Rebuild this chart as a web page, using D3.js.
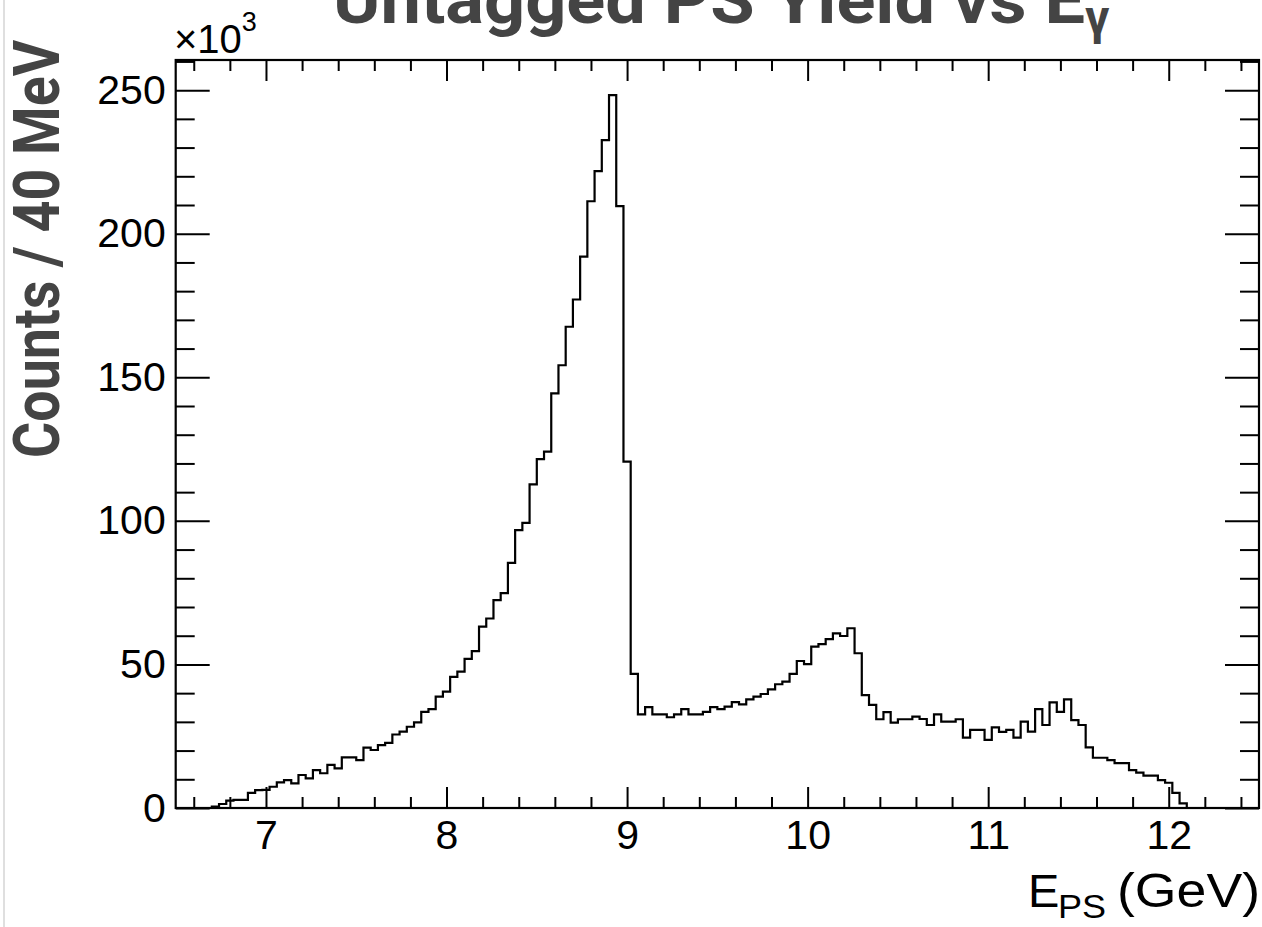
<!DOCTYPE html>
<html><head><meta charset="utf-8">
<script src="https://cdn.jsdelivr.net/npm/d3@7"></script>
<style>body{margin:0;background:#fff} svg{display:block}</style>
</head><body><svg id="c" width="1262" height="927"></svg>
<script>
// ---- data (counts per 40 MeV bin, in units of 10^3) ----
const binStart = 6.70;   // GeV, lower edge of first filled bin
const binWidth = 0.04;   // GeV
const countsK = [
  0.5, 1.4, 2.6, 2.8, 2.8, 5.3, 6.2, 6.3, 7.4, 8.9,
  9.7, 8.6, 11.5, 10.3, 13.2, 12.1, 15.0, 13.8, 17.6, 17.6,
  16.7, 21.0, 20.2, 21.9, 22.7, 25.6, 26.6, 28.3, 29.8, 33.5,
  34.4, 38.8, 40.5, 45.7, 47.5, 51.9, 54.6, 63.2, 66.0, 72.4,
  74.8, 85.4, 96.8, 99.3, 112.7, 121.5, 124.1, 144.4, 154.2, 167.6,
  177.1, 192.0, 211.3, 221.8, 232.6, 248.3, 209.6, 120.6, 46.7, 32.6,
  35.1, 32.6, 32.6, 31.6, 32.6, 34.4, 32.6, 32.6, 33.5, 35.1,
  34.4, 35.3, 36.9, 36.1, 37.8, 38.8, 39.7, 41.3, 43.1, 44.0,
  46.7, 51.2, 50.1, 56.2, 57.1, 58.8, 60.8, 59.9, 62.6, 53.9,
  39.3, 35.9, 30.9, 33.4, 29.7, 30.9, 30.9, 31.8, 31.0, 28.9,
  32.6, 30.1, 30.1, 30.9, 24.5, 27.2, 27.2, 23.7, 28.1, 26.5,
  27.2, 24.5, 30.1, 26.6, 34.4, 28.9, 36.8, 33.5, 37.8, 30.6,
  28.9, 21.1, 17.5, 17.5, 16.7, 15.6, 15.6, 13.2, 12.3, 11.3,
  11.3, 9.7, 8.8, 5.3, 1.6
];
const xDomain = [6.5, 12.5];
const yDomain = [0, 260.5];
const xMajorTicks = [7, 8, 9, 10, 11, 12];
const xTickLabels = ["7", "8", "9", "10", "11", "12"];
const yMajorTicks = [0, 50, 100, 150, 200, 250];
const yTickLabels = ["0", "50", "100", "150", "200", "250"];
const titleText = "Untagged PS Yield vs E";
const titleSub = "\u03B3";
const yTitle = "Counts / 40 MeV";

// ---- layout ----
const L = 175.7, R = 1259, T = 60, B = 808;
const svg = d3.select("#c");
const x = d3.scaleLinear().domain(xDomain).range([L, R]);
const y = d3.scaleLinear().domain(yDomain).range([B, T]);

const xMinor = d3.range(6.6, 12.5, 0.2).map(v => +v.toFixed(2)).filter(v => !xMajorTicks.some(m => Math.abs(m - v) < 1e-6));
const yMinor = d3.range(10, 261, 10).filter(v => v % 50 !== 0);

// page border line
svg.append("line").attr("x1", 4).attr("x2", 4).attr("y1", 0).attr("y2", 927)
  .attr("stroke", "#d4d4d4").attr("stroke-width", 1.5);

const tickFont = "'Liberation Sans', Arial, Helvetica, sans-serif";

function styleAxis(g) {
  g.select(".domain").remove();
  g.selectAll("line").attr("stroke", "#000").attr("stroke-width", 2);
  g.selectAll("text").attr("font-family", tickFont).attr("font-size", 41).attr("fill", "#000");
}

// bottom axis
svg.append("g").attr("transform", `translate(0,${B})`)
  .call(d3.axisBottom(x).tickValues(xMajorTicks).tickFormat((d, i) => xTickLabels[i]).tickSizeInner(-21).tickSizeOuter(0).tickPadding(12))
  .call(styleAxis);
svg.append("g").attr("transform", `translate(0,${B})`)
  .call(d3.axisBottom(x).tickValues(xMinor).tickFormat("").tickSizeInner(-11).tickSizeOuter(0))
  .call(styleAxis);
// top axis
svg.append("g").attr("transform", `translate(0,${T})`)
  .call(d3.axisTop(x).tickValues(xMajorTicks).tickFormat("").tickSizeInner(-21).tickSizeOuter(0))
  .call(styleAxis);
svg.append("g").attr("transform", `translate(0,${T})`)
  .call(d3.axisTop(x).tickValues(xMinor).tickFormat("").tickSizeInner(-11).tickSizeOuter(0))
  .call(styleAxis);
// left axis
svg.append("g").attr("transform", `translate(${L},0)`)
  .call(d3.axisLeft(y).tickValues(yMajorTicks).tickFormat((d, i) => yTickLabels[i]).tickSizeInner(-34).tickSizeOuter(0).tickPadding(10))
  .call(styleAxis);
svg.append("g").attr("transform", `translate(${L},0)`)
  .call(d3.axisLeft(y).tickValues(yMinor).tickFormat("").tickSizeInner(-19).tickSizeOuter(0))
  .call(styleAxis);
// right axis
svg.append("g").attr("transform", `translate(${R},0)`)
  .call(d3.axisRight(y).tickValues(yMajorTicks).tickFormat("").tickSizeInner(-34).tickSizeOuter(0))
  .call(styleAxis);
svg.append("g").attr("transform", `translate(${R},0)`)
  .call(d3.axisRight(y).tickValues(yMinor).tickFormat("").tickSizeInner(-19).tickSizeOuter(0))
  .call(styleAxis);

// frame
svg.append("rect").attr("x", L).attr("y", T).attr("width", R - L).attr("height", B - T)
  .attr("fill", "none").attr("stroke", "#000").attr("stroke-width", 2.2);

// histogram step line
const pts = [[binStart, 0]];
countsK.forEach((v, i) => {
  const x0 = binStart + i * binWidth;
  pts.push([x0, v], [x0 + binWidth, v]);
});
pts.push([binStart + countsK.length * binWidth, 0]);
svg.append("path").datum(pts)
  .attr("d", d3.line().x(d => x(d[0])).y(d => y(d[1])))
  .attr("fill", "none").attr("stroke", "#000").attr("stroke-width", 2.2)
  .attr("stroke-linejoin", "miter");

// x10^3 multiplier
const mult = svg.append("text").attr("x", 174).attr("y", 53)
  .attr("font-family", tickFont).attr("font-size", 40).attr("fill", "#000");
mult.append("tspan").text("\u00D710");
mult.append("tspan").attr("font-size", 27).attr("dy", -22).text("3");

// x axis title
const xt = svg.append("g").attr("font-family", tickFont).attr("fill", "#000");
xt.append("text").attr("x", 1028).attr("y", 907).attr("font-size", 47).text("E");
xt.append("text").attr("x", 1058).attr("y", 918).attr("font-size", 34)
  .attr("textLength", 48).attr("lengthAdjust", "spacingAndGlyphs").text("PS");
xt.append("text").attr("x", 1260).attr("y", 907).attr("font-size", 48).attr("text-anchor", "end")
  .attr("textLength", 143).attr("lengthAdjust", "spacingAndGlyphs").text("(GeV)");

// y axis title
const boldFont = "'Roboto', 'Liberation Sans Narrow', 'DejaVu Sans Condensed', sans-serif";
svg.append("text")
  .attr("transform", "translate(59,40) rotate(-90)")
  .attr("x", -418).attr("y", 0)
  .attr("font-family", boldFont).attr("font-weight", "bold").attr("font-size", 64)
  .attr("fill", "#444")
  .attr("textLength", 418).attr("lengthAdjust", "spacingAndGlyphs")
  .text(yTitle);

// title (cut off at top)
const tt = svg.append("text").attr("x", 333).attr("y", 23)
  .attr("font-family", boldFont).attr("font-weight", "bold").attr("font-size", 66)
  .attr("fill", "#444");
tt.append("tspan").attr("textLength", 752).attr("lengthAdjust", "spacingAndGlyphs").text(titleText);
tt.append("tspan").attr("font-size", 48).attr("dy", 11).text(titleSub);
</script>
</body></html>
